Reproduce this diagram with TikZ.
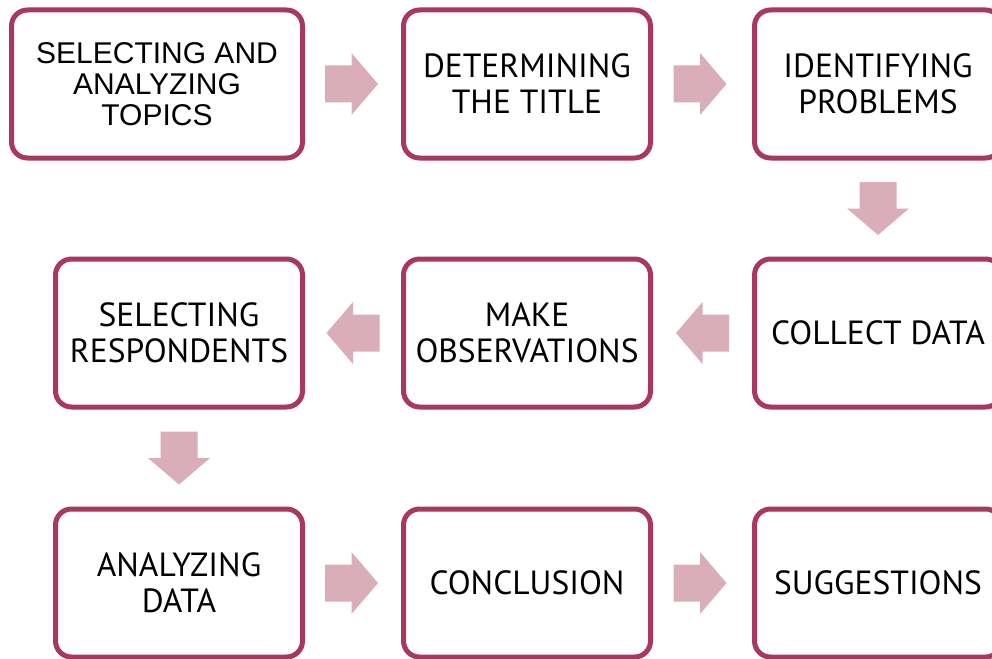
\documentclass[tikz,border=0pt]{standalone}
\usepackage{fontspec}
\setmainfont{PT Sans}
\newfontfamily\arialfont{Liberation Sans}
\usetikzlibrary{calc}

\definecolor{boxborder}{RGB}{168,56,94}
\definecolor{arrowpink}{RGB}{217,174,184}

\tikzset{
  stepbox/.style={draw=boxborder, line width=5pt, rounded corners=16pt, fill=white,
    minimum width=247pt, minimum height=148pt, inner sep=0pt, align=center,
    font=\fontsize{33.5}{36}\selectfont},
  flowarrow/.pic={
    \fill[arrowpink] (-26.5,-18.5) -- (0,-18.5) -- (0,-31) -- (26.5,0)
        -- (0,31) -- (0,18.5) -- (-26.5,18.5) -- cycle;
  },
}

\begin{document}
\begin{tikzpicture}[x=1pt,y=-1pt]

    \useasboundingbox (0,0) rectangle (992,658);
    \clip (0,0) rectangle (992,658);

    % first row
    \node[stepbox, minimum width=291pt, font=\arialfont\fontsize{30}{31}\selectfont]
        (topics) at (157,84) {SELECTING AND\\ANALYZING\\TOPICS};
    \node[stepbox] (title) at (527,84) {DETERMINING\\THE TITLE};
    \node[stepbox] (problems) at (878,84) {IDENTIFYING\\PROBLEMS};

    % second row
    \node[stepbox] (respondents) at (179,333) {SELECTING\\RESPONDENTS};
    \node[stepbox] (observations) at (527,333) {MAKE\\OBSERVATIONS};
    \node[stepbox] (collect) at (878,333) {COLLECT DATA};

    % third row
    \node[stepbox] (analyzing) at (179,583) {ANALYZING\\DATA};
    \node[stepbox] (conclusion) at (527,583) {CONCLUSION};
    \node[stepbox] (suggestions) at (878,583) {SUGGESTIONS};

    % arrows
    \pic (a1) at ($(topics.east)!0.5!(title.west)+(-1.5,0)$) {flowarrow};
    \pic (a2) at ($(title.east)!0.5!(problems.west)+(-2.5,0)$) {flowarrow};
    \pic[rotate=-90] (a3) at ($(problems.south)!0.5!(collect.north)$) {flowarrow};
    \pic[rotate=180] (a4) at ($(collect.west)!0.5!(observations.east)$) {flowarrow};
    \pic[rotate=180] (a5) at ($(observations.west)!0.5!(respondents.east)$) {flowarrow};
    \pic[rotate=-90] (a6) at ($(respondents.south)!0.5!(analyzing.north)$) {flowarrow};
    \pic (a7) at ($(analyzing.east)!0.5!(conclusion.west)+(-1.5,0)$) {flowarrow};
    \pic (a8) at ($(conclusion.east)!0.5!(suggestions.west)+(-2.5,0)$) {flowarrow};

\end{tikzpicture}
\end{document}
